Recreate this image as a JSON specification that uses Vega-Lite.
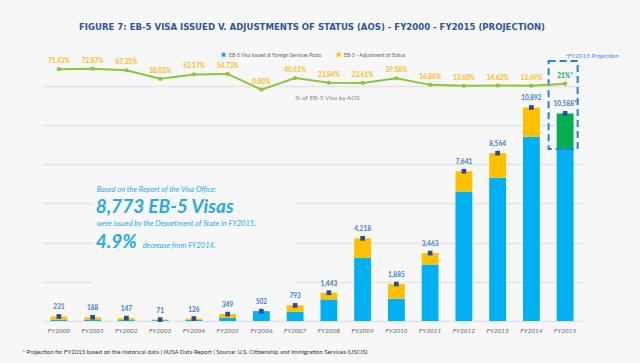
{
  "$schema": "https://vega.github.io/schema/vega-lite/v6.json",
  "autosize": {"type": "none"},
  "width": 540,
  "height": 267,
  "padding": {"left": 42, "top": 54, "right": 58, "bottom": 42},
  "background": "#f7f7f7",
  "title": {
    "text": "FIGURE 7: EB-5 VISA ISSUED V. ADJUSTMENTS OF STATUS (AOS) - FY2000 - FY2015 (PROJECTION)",
    "font": "DejaVu Sans Condensed",
    "fontWeight": "bold",
    "fontSize": 9.5,
    "color": "#2f5597",
    "anchor": "middle",
    "offset": 21
  },
  "config": {"view": {"stroke": null}, "font": "Lato"},
  "datasets": {
    "bars": [
      {"year": "FY2000", "series": "EB-5 Visa Issued at Foreign Services Posts", "n": 66, "ord": 1},
      {"year": "FY2000", "series": "EB-5 - Adjustment of Status", "n": 165, "ord": 2},
      {"year": "FY2001", "series": "EB-5 Visa Issued at Foreign Services Posts", "n": 51, "ord": 1},
      {"year": "FY2001", "series": "EB-5 - Adjustment of Status", "n": 137, "ord": 2},
      {"year": "FY2002", "series": "EB-5 Visa Issued at Foreign Services Posts", "n": 48, "ord": 1},
      {"year": "FY2002", "series": "EB-5 - Adjustment of Status", "n": 99, "ord": 2},
      {"year": "FY2003", "series": "EB-5 Visa Issued at Foreign Services Posts", "n": 44, "ord": 1},
      {"year": "FY2003", "series": "EB-5 - Adjustment of Status", "n": 27, "ord": 2},
      {"year": "FY2004", "series": "EB-5 Visa Issued at Foreign Services Posts", "n": 59, "ord": 1},
      {"year": "FY2004", "series": "EB-5 - Adjustment of Status", "n": 67, "ord": 2},
      {"year": "FY2005", "series": "EB-5 Visa Issued at Foreign Services Posts", "n": 158, "ord": 1},
      {"year": "FY2005", "series": "EB-5 - Adjustment of Status", "n": 191, "ord": 2},
      {"year": "FY2006", "series": "EB-5 Visa Issued at Foreign Services Posts", "n": 502, "ord": 1},
      {"year": "FY2006", "series": "EB-5 - Adjustment of Status", "n": 0, "ord": 2},
      {"year": "FY2007", "series": "EB-5 Visa Issued at Foreign Services Posts", "n": 471, "ord": 1},
      {"year": "FY2007", "series": "EB-5 - Adjustment of Status", "n": 322, "ord": 2},
      {"year": "FY2008", "series": "EB-5 Visa Issued at Foreign Services Posts", "n": 1099, "ord": 1},
      {"year": "FY2008", "series": "EB-5 - Adjustment of Status", "n": 344, "ord": 2},
      {"year": "FY2009", "series": "EB-5 Visa Issued at Foreign Services Posts", "n": 3222, "ord": 1},
      {"year": "FY2009", "series": "EB-5 - Adjustment of Status", "n": 996, "ord": 2},
      {"year": "FY2010", "series": "EB-5 Visa Issued at Foreign Services Posts", "n": 1139, "ord": 1},
      {"year": "FY2010", "series": "EB-5 - Adjustment of Status", "n": 746, "ord": 2},
      {"year": "FY2011", "series": "EB-5 Visa Issued at Foreign Services Posts", "n": 2879, "ord": 1},
      {"year": "FY2011", "series": "EB-5 - Adjustment of Status", "n": 584, "ord": 2},
      {"year": "FY2012", "series": "EB-5 Visa Issued at Foreign Services Posts", "n": 6602, "ord": 1},
      {"year": "FY2012", "series": "EB-5 - Adjustment of Status", "n": 1039, "ord": 2},
      {"year": "FY2013", "series": "EB-5 Visa Issued at Foreign Services Posts", "n": 7312, "ord": 1},
      {"year": "FY2013", "series": "EB-5 - Adjustment of Status", "n": 1252, "ord": 2},
      {"year": "FY2014", "series": "EB-5 Visa Issued at Foreign Services Posts", "n": 9401, "ord": 1},
      {"year": "FY2014", "series": "EB-5 - Adjustment of Status", "n": 1491, "ord": 2},
      {"year": "FY2015", "series": "EB-5 Visa Issued at Foreign Services Posts", "n": 8773, "ord": 1},
      {"year": "FY2015", "series": "FY2015 Projection", "n": 1815, "ord": 3}
    ],
    "tot": [
      {"year": "FY2000", "total": 231, "label": "231", "pct": 71.43, "plabel": "71.43%"},
      {"year": "FY2001", "total": 188, "label": "188", "pct": 72.87, "plabel": "72.87%"},
      {"year": "FY2002", "total": 147, "label": "147", "pct": 67.35, "plabel": "67.35%"},
      {"year": "FY2003", "total": 71, "label": "71", "pct": 38.03, "plabel": "38.03%"},
      {"year": "FY2004", "total": 126, "label": "126", "pct": 53.17, "plabel": "53.17%"},
      {"year": "FY2005", "total": 349, "label": "349", "pct": 54.73, "plabel": "54.73%"},
      {"year": "FY2006", "total": 502, "label": "502", "pct": 0, "plabel": "0.00%"},
      {"year": "FY2007", "total": 793, "label": "793", "pct": 40.61, "plabel": "40.61%"},
      {"year": "FY2008", "total": 1443, "label": "1,443", "pct": 23.84, "plabel": "23.84%"},
      {"year": "FY2009", "total": 4218, "label": "4,218", "pct": 23.61, "plabel": "23.61%"},
      {"year": "FY2010", "total": 1885, "label": "1,885", "pct": 39.58, "plabel": "39.58%"},
      {"year": "FY2011", "total": 3463, "label": "3,463", "pct": 16.86, "plabel": "16.86%"},
      {"year": "FY2012", "total": 7641, "label": "7,641", "pct": 13.6, "plabel": "13.60%"},
      {"year": "FY2013", "total": 8564, "label": "8,564", "pct": 14.62, "plabel": "14.62%"},
      {"year": "FY2014", "total": 10892, "label": "10,892", "pct": 13.69, "plabel": "13.69%"},
      {"year": "FY2015", "total": 10588, "label": "10,588*", "pct": 21, "plabel": "21%*"}
    ]
  },
  "layer": [
    {
      "layer": [
        {
          "data": {"name": "bars"},
          "mark": {"type": "bar", "width": {"band": 0.5}},
          "encoding": {
            "x": {
              "field": "year", "type": "nominal",
              "scale": {"paddingInner": 0, "paddingOuter": 0},
              "axis": {
                "title": "* Projection for FY2015 based on the historical data | IIUSA Data Report | Source: U.S. Citizenship and Immigration Services (USCIS)",
                "titleFont": "Lato", "titleFontSize": 6, "titleFontWeight": "normal", "titleColor": "#333",
                "titleAnchor": "start", "titleAlign": "left", "titleX": -20, "titleY": 30, "titleBaseline": "middle",
                "labelAngle": 0, "labelFont": "Lato", "labelFontStyle": "italic", "labelFontSize": 6.5, "labelColor": "#666",
                "labelPadding": 6, "domain": false, "ticks": false
              }
            },
            "y": {
              "field": "n", "type": "quantitative",
              "scale": {"domain": [0, 13620], "nice": false},
              "axis": {
                "values": [0, 1000, 2000, 3000, 4000, 5000, 6000, 7000, 8000, 9000, 10000, 11000, 12000, 13000],
                "labels": false, "ticks": false, "domain": false, "title": null,
                "grid": true, "gridColor": "#e4e4e4", "gridWidth": 1.5
              }
            },
            "color": {
              "field": "series", "type": "nominal",
              "scale": {
                "domain": ["EB-5 Visa Issued at Foreign Services Posts", "EB-5 - Adjustment of Status", "FY2015 Projection"],
                "range": ["#00b0f0", "#ffc000", "#00b050"]
              },
              "legend": {
                "values": ["EB-5 Visa Issued at Foreign Services Posts", "EB-5 - Adjustment of Status"],
                "orient": "none", "legendX": 179, "legendY": -2, "direction": "horizontal",
                "title": null, "symbolType": "square", "symbolSize": 14, "symbolStrokeWidth": 0,
                "labelFontSize": 5, "labelColor": "#666", "columnPadding": 14, "labelOffset": 3
              }
            },
            "order": {"field": "ord"}
          }
        },
        {
          "data": {"values": [{}]},
          "mark": {"type": "rect", "fill": "#f7f7f7"},
          "encoding": {
            "x": {"datum": "FY2001", "bandPosition": 0.5},
            "x2": {"datum": "FY2007"},
            "y": {"datum": 1500},
            "y2": {"datum": 7600}
          }
        },
        {
          "data": {"name": "tot"},
          "mark": {"type": "point", "shape": "square", "filled": true, "size": 22, "color": "#2b4c9b", "opacity": 1},
          "encoding": {
            "x": {"field": "year", "type": "nominal"},
            "y": {"field": "total", "type": "quantitative"}
          }
        },
        {
          "data": {"name": "tot"},
          "mark": {"type": "text", "dy": -9, "fontSize": 6.5, "fontWeight": "bold", "color": "#3c7dc4"},
          "encoding": {
            "x": {"field": "year", "type": "nominal"},
            "y": {"field": "total", "type": "quantitative"},
            "text": {"field": "label"}
          }
        },
        {
          "data": {"values": [{}]},
          "mark": {"type": "bar", "width": {"band": 0.86}, "xOffset": -2, "fill": "transparent", "stroke": "#2a7fd4", "strokeWidth": 2, "strokeDash": [7, 4]},
          "encoding": {
            "x": {"datum": "FY2015"},
            "y": {"datum": 8773},
            "y2": {"datum": 13265}
          }
        },
        {
          "data": {"values": [{}]},
          "mark": {"type": "text", "text": "*FY2015 Projection", "align": "left", "fontSize": 6.5, "fontStyle": "italic", "color": "#3b8fd6"},
          "encoding": {"x": {"datum": "FY2015"}, "y": {"datum": 13520}}
        },
        {
          "data": {"values": [{}]},
          "mark": {"type": "text", "text": "Based on the Report of the Visa Office:", "align": "left", "dx": 4, "fontSize": 7.5, "fontStyle": "italic", "color": "#29abe2"},
          "encoding": {"x": {"datum": "FY2001"}, "y": {"datum": 6684}}
        },
        {
          "data": {"values": [{}]},
          "mark": {"type": "text", "text": "8,773 EB-5 Visas", "align": "left", "dx": 3, "fontSize": 19, "fontWeight": "bold", "fontStyle": "italic", "color": "#29abe2"},
          "encoding": {"x": {"datum": "FY2001"}, "y": {"datum": 5816}}
        },
        {
          "data": {"values": [{}]},
          "mark": {"type": "text", "text": "were issued by the Department of State in FY2015.", "align": "left", "dx": 4, "fontSize": 7.5, "fontStyle": "italic", "color": "#29abe2"},
          "encoding": {"x": {"datum": "FY2001"}, "y": {"datum": 4949}}
        },
        {
          "data": {"values": [{}]},
          "mark": {"type": "text", "text": "4.9%", "align": "left", "dx": 3, "fontSize": 19, "fontWeight": "bold", "fontStyle": "italic", "color": "#29abe2"},
          "encoding": {"x": {"datum": "FY2001"}, "y": {"datum": 4030}}
        },
        {
          "data": {"values": [{}]},
          "mark": {"type": "text", "text": "decrease from FY2014.", "align": "left", "dx": 50, "fontSize": 7.5, "fontStyle": "italic", "color": "#29abe2"},
          "encoding": {"x": {"datum": "FY2001"}, "y": {"datum": 3827}}
        }
      ]
    },
    {
      "data": {"name": "tot"},
      "layer": [
        {
          "mark": {"type": "line", "color": "#8cc63e", "strokeWidth": 2},
          "encoding": {
            "x": {"field": "year", "type": "nominal"},
            "y": {"field": "pct", "type": "quantitative", "scale": {"domain": [-803, 124], "nice": false, "zero": false}, "axis": null}
          }
        },
        {
          "mark": {"type": "point", "filled": true, "size": 18, "color": "#8cc63e", "opacity": 1},
          "encoding": {
            "x": {"field": "year", "type": "nominal"},
            "y": {"field": "pct", "type": "quantitative"}
          }
        },
        {
          "mark": {"type": "text", "dy": -8, "fontSize": 6.5, "fontWeight": "bold"},
          "encoding": {
            "x": {"field": "year", "type": "nominal"},
            "y": {"field": "pct", "type": "quantitative"},
            "text": {"field": "plabel"},
            "color": {"condition": {"test": "datum.year === 'FY2015'", "value": "#00b050"}, "value": "#fbb917"}
          }
        },
        {
          "data": {"values": [{}]},
          "mark": {"type": "text", "text": "% of EB-5 Visa by AOS", "align": "left", "fontSize": 6.5, "color": "#8a8a8a"},
          "encoding": {"x": {"datum": "FY2007"}, "y": {"datum": -30}}
        }
      ]
    }
  ],
  "resolve": {"scale": {"y": "independent"}}
}
